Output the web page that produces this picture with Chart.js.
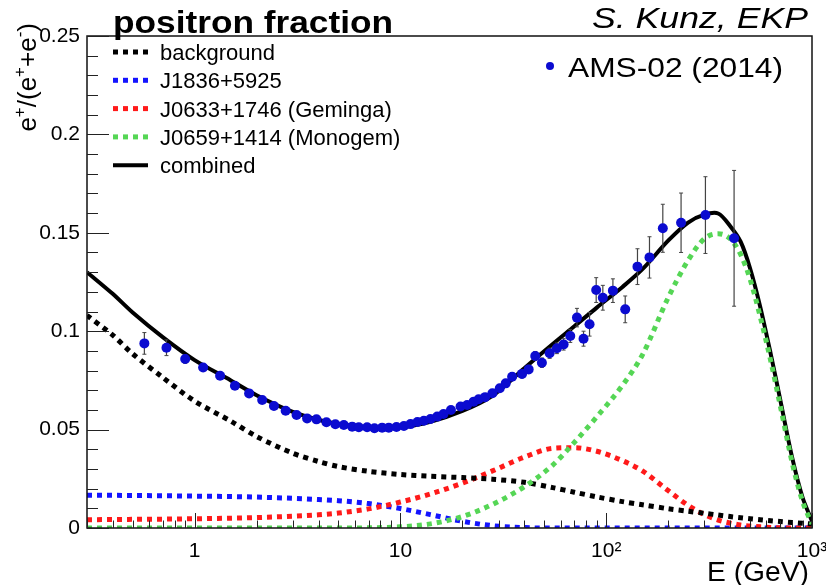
<!DOCTYPE html>
<html>
<head>
<meta charset="utf-8">
<script src="https://cdn.jsdelivr.net/npm/chart.js@4.4.1/dist/chart.umd.min.js"></script>
<style>
  html, body { margin: 0; padding: 0; background: #fff; }
  #wrap { width: 826px; height: 585px; }
</style>
</head>
<body>
<div id="wrap"><canvas id="positronChart" width="826" height="585"></canvas></div>
<script>
// --- Data ---
const energyGrid = [0.3, 0.4, 0.5, 0.7, 1, 1.5, 2, 3, 4, 5, 7, 10, 14, 20, 28, 40, 55, 70, 90,
    120, 150, 200, 250, 300, 350, 400, 450, 500, 560, 630, 700, 800, 900, 1000];

const background = [0.1080, 0.0980, 0.0885, 0.0765, 0.0645, 0.0543, 0.0465, 0.0380, 0.0338, 0.0312,
    0.0288, 0.0272, 0.0263, 0.0256, 0.0248, 0.0232, 0.0205, 0.0182, 0.0158, 0.0134, 0.0118, 0.0098,
    0.0085, 0.0075, 0.0066, 0.0058, 0.0052, 0.0047, 0.0042, 0.0037, 0.0033, 0.0028, 0.0024, 0.0020];

const j1836 = [0.0167, 0.0166, 0.0165, 0.0164, 0.0162, 0.0160, 0.0157, 0.0151, 0.0145, 0.0139,
    0.0124, 0.0099, 0.0068, 0.0034, 0.0012, 0.0002, 0, 0, 0, 0, 0, 0,
    0, 0, 0, 0, 0, 0, 0, 0, 0, 0, 0, 0];

const geminga = [0.0042, 0.0043, 0.0044, 0.0045, 0.0047, 0.0050, 0.0053, 0.0060, 0.0067, 0.0076,
    0.0097, 0.0132, 0.0173, 0.0228, 0.0290, 0.0360, 0.0405, 0.0408, 0.0390, 0.0342, 0.0290, 0.0190,
    0.0115, 0.0068, 0.0040, 0.0025, 0.0015, 0.0010, 0.0006, 0.0003, 0.0001, 0, 0, 0];

const monogem = [0, 0, 0, 0, 0, 0, 0, 0, 0, 0,
    0.0001, 0.0006, 0.0021, 0.0058, 0.0120, 0.0210, 0.0320, 0.0435, 0.0565, 0.0725, 0.0880, 0.1170,
    0.1360, 0.1470, 0.1495, 0.1470, 0.1390, 0.1265, 0.1075, 0.0850, 0.0625, 0.0335, 0.0135, 0.0020];

const combined = [0.1300, 0.1190, 0.1095, 0.0970, 0.0853, 0.0750, 0.0675, 0.0590, 0.0550, 0.0528,
    0.0512, 0.0512, 0.0540, 0.0595, 0.0672, 0.0812, 0.0935, 0.1025, 0.1120, 0.1225, 0.1315, 0.1460,
    0.1552, 0.1592, 0.1598, 0.1535, 0.1455, 0.1320, 0.1125, 0.0885, 0.0655, 0.0360, 0.0155, 0.0035];

const amsEnergy = [0.57, 0.73, 0.90, 1.10, 1.33, 1.57, 1.84, 2.13, 2.43, 2.77, 3.13, 3.52, 3.91, 4.37,
    4.83, 5.31, 5.83, 6.28, 6.89, 7.48, 8.15, 8.78, 9.57, 10.4, 11.2, 12.1, 13.0, 14.0, 15.1, 16.2,
    17.6, 19.6, 21.1, 22.7, 24.0, 25.8, 28.0, 30.4, 32.5, 34.9, 39.0, 42.0, 45.2, 48.7, 53.1, 57.6,
    62.1, 66.9, 72.1, 77.6, 83.0, 89.4, 96.3, 107.8, 123.7, 141.9, 162.3, 188.4, 231.1, 303.5, 418.2];

const amsFraction = [0.0938, 0.0916, 0.0859, 0.0816, 0.0774, 0.0723, 0.0684, 0.0650, 0.0620, 0.0596,
    0.0574, 0.0557, 0.0552, 0.0537, 0.0527, 0.0523, 0.0515, 0.0512, 0.0512, 0.0507, 0.0510, 0.0510,
    0.0513, 0.0518, 0.0528, 0.0539, 0.0545, 0.0554, 0.0566, 0.0579, 0.0600, 0.0617, 0.0625, 0.0642,
    0.0654, 0.0665, 0.0685, 0.0710, 0.0735, 0.0769, 0.0783, 0.0806, 0.0874, 0.0840, 0.0888, 0.0913,
    0.0933, 0.0976, 0.1069, 0.0962, 0.1035, 0.1209, 0.1170, 0.1206, 0.1111, 0.1328, 0.1375, 0.1523,
    0.1551, 0.1590, 0.1472];

const amsError = [0.0055, 0.0040, 0.0022, 0.0013, 0.0010, 0.0009, 0.0008, 0.0008, 0.0008, 0.0008,
    0.0008, 0.0008, 0.0008, 0.0008, 0.0008, 0.0008, 0.0008, 0.0008, 0.0008, 0.0008, 0.0008, 0.0008,
    0.0008, 0.0009, 0.0009, 0.0010, 0.0010, 0.0010, 0.0010, 0.0010, 0.0011, 0.0012, 0.0012, 0.0013,
    0.0014, 0.0015, 0.0016, 0.0017, 0.0018, 0.0019, 0.0020, 0.0021, 0.0023, 0.0024, 0.0026, 0.0027,
    0.0029, 0.0033, 0.0047, 0.0038, 0.0060, 0.0063, 0.0063, 0.0060, 0.0068, 0.0091, 0.0105, 0.0122,
    0.0151, 0.0195, 0.0345];

const xTickValues = [1, 10, 100, 1000];
const xTickLabels = ['1', '10', '10²', '10³'];
const yTickValues = [0, 0.05, 0.1, 0.15, 0.2, 0.25];
const yTickLabels = ['0', '0.05', '0.1', '0.15', '0.2', '0.25'];

// --- Estilo ---
const FONT = '"Liberation Sans", Arial, Helvetica, sans-serif';
const POINT_BLUE = '#0b0bd0';

function curve(label, values, color, dotted, width, order) {
    return {
        label: label,
        data: energyGrid.map((e, i) => ({ x: e, y: values[i] })),
        showLine: true,
        borderColor: color,
        borderWidth: width,
        borderDash: dotted ? [5, 5] : [],
        borderCapStyle: 'butt',
        pointRadius: 0,
        tension: 0.3,
        fill: false,
        order: order
    };
}

// Barras de erro: pares (baixo, cima) separados por um buraco
const errData = [];
amsEnergy.forEach((e, i) => {
    errData.push({ x: e, y: amsFraction[i] - amsError[i] });
    errData.push({ x: e, y: amsFraction[i] + amsError[i] });
    errData.push({ x: e, y: null });
});

const datasets = [
    {
        label: 'AMS-02 (2014)',
        data: amsEnergy.map((e, i) => ({ x: e, y: amsFraction[i] })),
        showLine: false,
        pointRadius: 5,
        pointBackgroundColor: POINT_BLUE,
        pointBorderWidth: 0,
        order: 0
    },
    {
        label: 'errors',
        data: errData,
        showLine: true,
        spanGaps: false,
        borderColor: '#444',
        borderWidth: 1.2,
        pointStyle: 'line',
        pointRadius: 2,
        pointBorderColor: '#444',
        pointBorderWidth: 1,
        order: 1
    },
    curve('background', background, '#000000', true, 5, 3),
    curve('J1836+5925', j1836, '#1414ff', true, 5, 4),
    curve('J0633+1746 (Geminga)', geminga, '#ff1a1a', true, 5, 3),
    curve('J0659+1414 (Monogem)', monogem, '#55d655', true, 5, 2),
    curve('combined', combined, '#000000', false, 4, 5)
];
// curvas que tocam o zero: sem overshoot
datasets.slice(3, 6).forEach(d => { d.tension = 0; d.cubicInterpolationMode = 'monotone'; });

// text helper: texto com largura alvo (escala horizontal)
function fitText(ctx, text, x, y, font, width, align) {
    ctx.save();
    ctx.font = font;
    const w = ctx.measureText(text).width;
    ctx.translate(x, y);
    ctx.scale(width ? width / w : 1, 1);
    ctx.textAlign = align || 'left';
    ctx.textBaseline = 'alphabetic';
    ctx.fillText(text, 0, 0);
    ctx.restore();
}

// text with superscripts: parts = [[texto, sup?], ...]
function richText(ctx, parts, size) {
    let x = 0;
    parts.forEach(([t, sup]) => {
        ctx.font = (sup ? Math.round(size * 0.65) : size) + 'px ' + FONT;
        ctx.fillText(t, x, sup ? -size * 0.42 : 0);
        x += ctx.measureText(t).width;
    });
    return x;
}
function richWidth(ctx, parts, size) {
    let w = 0;
    parts.forEach(([t, sup]) => {
        ctx.font = (sup ? Math.round(size * 0.65) : size) + 'px ' + FONT;
        w += ctx.measureText(t).width;
    });
    return w;
}

const rootStyle = {
    id: 'rootStyle',
    afterDraw(chart) {
        const { ctx, chartArea: a, scales: { x, y } } = chart;
        ctx.save();

        // frame
        ctx.strokeStyle = '#111';
        ctx.lineWidth = 1.5;
        ctx.strokeRect(a.left, a.top, a.right - a.left, a.bottom - a.top);

        // ticks para dentro
        ctx.lineWidth = 1;
        ctx.strokeStyle = '#222';
        ctx.beginPath();
        x.ticks.forEach(t => {
            const px = Math.round(x.getPixelForValue(t.value)) + 0.5;
            const len = xTickValues.includes(t.value) ? 15 : 7.5;
            ctx.moveTo(px, a.bottom);
            ctx.lineTo(px, a.bottom - len);
        });
        y.ticks.forEach(t => {
            const py = Math.round(y.getPixelForValue(t.value)) + 0.5;
            const len = yTickValues.some(v => Math.abs(v - t.value) < 1e-6) ? 22 : 11;
            ctx.moveTo(a.left, py);
            ctx.lineTo(a.left + len, py);
        });
        ctx.stroke();

        ctx.fillStyle = '#000';
        // title
        fitText(ctx, 'positron fraction', 113, 33, 'bold 32px ' + FONT, 280, 'left');
        fitText(ctx, 'S. Kunz, EKP', 808, 28, 'italic 30px ' + FONT, 216, 'right');

        // y axis title, rotated
        const yParts = [['e', 0], ['+', 1], ['/(e', 0], ['+', 1], ['+e', 0], ['-', 1], [')', 0]];
        ctx.save();
        ctx.translate(36, 23);
        ctx.rotate(-Math.PI / 2);
        const yw = richWidth(ctx, yParts, 26);
        ctx.translate(-yw, 0);
        ctx.textBaseline = 'alphabetic';
        richText(ctx, yParts, 26);
        ctx.restore();

        // x axis title
        fitText(ctx, 'E (GeV)', 809, 581, '27px ' + FONT, 102, 'right');

        // legend, top-left
        const legendOrder = ['background', 'J1836+5925', 'J0633+1746 (Geminga)', 'J0659+1414 (Monogem)', 'combined'];
        legendOrder.forEach((name, i) => {
            const d = chart.data.datasets.find(r => r.label === name);
            const cy = 52 + i * 28.3;
            ctx.beginPath();
            ctx.strokeStyle = d.borderColor;
            ctx.lineWidth = d.borderWidth;
            ctx.setLineDash(d.borderDash);
            ctx.moveTo(113, cy);
            ctx.lineTo(148, cy);
            ctx.stroke();
            ctx.setLineDash([]);
            ctx.fillStyle = '#000';
            ctx.font = '22px ' + FONT;
            ctx.textAlign = 'left';
            ctx.textBaseline = 'alphabetic';
            ctx.fillText(name, 160, cy + 8);
        });

        // legend, top-right (data)
        const pts = chart.data.datasets[0];
        ctx.beginPath();
        ctx.fillStyle = pts.pointBackgroundColor;
        ctx.arc(550, 66, 4, 0, Math.PI * 2);
        ctx.fill();
        ctx.fillStyle = '#000';
        fitText(ctx, pts.label, 568, 77, '28px ' + FONT, 215, 'left');

        ctx.restore();
    }
};

const xTickGrid = [];
[0.1, 1, 10, 100].forEach(dec => {
    for (let m = 1; m <= 9; m++) {
        const v = +(m * dec).toPrecision(3);
        if (v >= 0.3) xTickGrid.push(v);
    }
});
xTickGrid.push(1000);

new Chart(document.getElementById('positronChart'), {
    type: 'scatter',
    data: { datasets: datasets },
    options: {
        responsive: false,
        animation: false,
        events: [],
        layout: { padding: { left: 0, right: 14, top: 36, bottom: 0 } },
        plugins: {
            legend: { display: false },
            tooltip: { enabled: false }
        },
        scales: {
            x: {
                type: 'logarithmic',
                min: 0.3,
                max: 1000,
                grid: { display: false, drawTicks: false },
                border: { display: false },
                afterBuildTicks: scale => { scale.ticks = xTickGrid.map(v => ({ value: v })); },
                afterFit: scale => { scale.height = 57; scale.paddingLeft = 0; scale.paddingRight = 0; },
                ticks: {
                    autoSkip: false,
                    maxRotation: 0,
                    padding: 11,
                    color: '#000',
                    font: { family: FONT, size: 21 },
                    callback: value => {
                        const i = xTickValues.indexOf(value);
                        return i >= 0 ? xTickLabels[i] : '';
                    }
                }
            },
            y: {
                min: 0,
                max: 0.25,
                grid: { display: false, drawTicks: false },
                border: { display: false },
                afterFit: scale => { scale.width = 87; scale.paddingTop = 0; scale.paddingBottom = 0; },
                ticks: {
                    stepSize: 0.01,
                    autoSkip: false,
                    padding: 7,
                    color: '#000',
                    font: { family: FONT, size: 21 },
                    callback: value => {
                        const i = yTickValues.findIndex(v => Math.abs(v - value) < 1e-6);
                        return i >= 0 ? yTickLabels[i] : '';
                    }
                }
            }
        }
    },
    plugins: [rootStyle]
});
</script>
</body>
</html>
